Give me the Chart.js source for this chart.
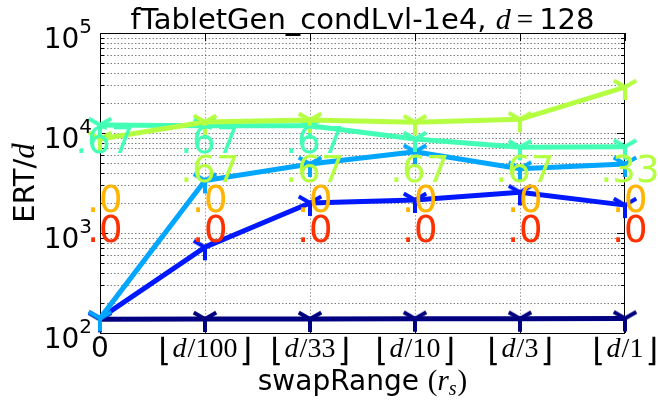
<!DOCTYPE html>
<html><head><meta charset="utf-8">
<script src="https://cdn.jsdelivr.net/npm/chart.js@4/dist/chart.umd.min.js"></script>
<style>html,body{margin:0;padding:0;background:#fff;overflow:hidden}canvas{display:block}</style>
</head><body>
<canvas id="c" width="658" height="402"></canvas>
<script>
// ---- data ----
const categories = ["0", "d/100", "d/33", "d/10", "d/3", "d/1"];
const xTickDivisors = [null, "100", "33", "10", "3", "1"];
const yTickExponents = [2, 3, 4, 5];
const seriesNavy = [137, 138, 138, 139, 139, 140];
const seriesBlue = [140, 720, 2000, 2140, 2550, 1900];
const seriesLightBlue = [140, 3350, 4900, 6500, 4400, 4900];
const seriesAqua = [12000, 11800, 11800, 8700, 7200, 7300];
const seriesYellowGreen = [8700, 12900, 13500, 12800, 13700, 28800];
const labelsAqua = [".67", ".67", ".67", null, null, null];
const labelsYellowGreen = [null, ".67", ".67", ".67", ".67", ".33"];
const labelsOrange = [".0", ".0", ".0", ".0", ".0", ".0"];
const labelsRed = [".0", ".0", ".0", ".0", ".0", ".0"];

const COL = {navy:"#000080", blue:"#0018ff", lblue:"#00a6ff", aqua:"#42ffb5", yg:"#b5ff42", orange:"#ffb400", red:"#ff3000"};

function triDown(color){
  const c = document.createElement('canvas'); c.width = c.height = 34;
  const g = c.getContext('2d'); g.strokeStyle = color; g.lineWidth = 4;
  const cx = 17, cy = 17, r = 13;
  g.beginPath();
  g.moveTo(cx, cy); g.lineTo(cx, cy + r);
  g.moveTo(cx, cy); g.lineTo(cx - r*0.866, cy - r*0.5);
  g.moveTo(cx, cy); g.lineTo(cx + r*0.866, cy - r*0.5);
  g.stroke();
  return c;
}
function ds(data, color, ord){
  return {data, borderColor:color, backgroundColor:color, borderWidth:5, pointStyle:triDown(color),
    pointRadius:10, pointHoverRadius:10, tension:0, clip:false, order:ord};
}

function drawRich(ctx, parts, x, y, align){
  let total = 0;
  parts.forEach(p => { ctx.font = p.f; p.w = ctx.measureText(p.t).width + (p.sp || 0); total += p.w; });
  let cx = align === 'center' ? x - total/2 : (align === 'right' ? x - total : x);
  ctx.textAlign = 'left';
  parts.forEach(p => { ctx.font = p.f; ctx.fillText(p.t, cx + (p.pre || 0), y + (p.dy || 0)); cx += p.w; });
}

const SANS = '"DejaVu Sans"';
const BRK = '32px "Liberation Serif", "DejaVu Sans"';
const decor = {
  id: 'decor',
  beforeDatasetsDraw(chart){
    const {ctx, chartArea:a, scales:{x, y}} = chart;
    ctx.save();
    ctx.lineWidth = 1;
    ctx.setLineDash([1.5, 2]);
    ctx.strokeStyle = 'rgba(0,0,0,0.5)';
    for (let k = 2; k <= 4; k++) for (let m = 1; m <= 9; m++) {
      const py = Math.round(y.getPixelForValue(m * Math.pow(10, k))) + 0.5;
      if (py <= a.top + 1 || py >= a.bottom - 1) continue;
      ctx.beginPath(); ctx.moveTo(a.left, py); ctx.lineTo(a.right, py); ctx.stroke();
    }
    ctx.strokeStyle = 'rgba(0,0,0,0.38)';
    categories.forEach((c, i) => {
      const px = Math.round(x.getPixelForValue(i)) + 0.5;
      if (px <= a.left + 1 || px >= a.right - 1) return;
      ctx.beginPath(); ctx.moveTo(px, a.top); ctx.lineTo(px, a.bottom); ctx.stroke();
    });
    ctx.setLineDash([]);
    ctx.strokeStyle = '#000';
    for (let k = 2; k <= 5; k++) for (let m = 1; m <= 9; m++) {
      const v = m * Math.pow(10, k); if (v > 1e5) break;
      const py = Math.round(y.getPixelForValue(v)) + 0.5;
      const L = m === 1 ? 8 : 4;
      ctx.beginPath();
      ctx.moveTo(a.left, py); ctx.lineTo(a.left + L, py);
      ctx.moveTo(a.right, py); ctx.lineTo(a.right - L, py);
      ctx.stroke();
    }
    categories.forEach((c, i) => {
      const px = Math.round(x.getPixelForValue(i)) + 0.5;
      ctx.beginPath();
      ctx.moveTo(px, a.bottom); ctx.lineTo(px, a.bottom - 8);
      ctx.moveTo(px, a.top); ctx.lineTo(px, a.top + 8);
      ctx.stroke();
    });
    ctx.strokeRect(a.left + 0.5, a.top + 0.5, a.right - a.left - 1, a.bottom - a.top);
    ctx.restore();
  },
  afterDatasetsDraw(chart){
    const {ctx, chartArea:a, scales:{x}} = chart;
    ctx.save();
    ctx.font = '37px ' + SANS; ctx.textAlign = 'center'; ctx.textBaseline = 'alphabetic';
    const rows = [[labelsAqua, COL.aqua, 120], [labelsYellowGreen, COL.yg, 149], [labelsOrange, COL.orange, 179], [labelsRed, COL.red, 209]];
    rows.forEach(([labs, col, off]) => {
      ctx.fillStyle = col;
      labs.forEach((t, i) => { if (t) ctx.fillText(t, x.getPixelForValue(i) + 5, a.top + off); });
    });
    ctx.restore();
  },
  afterDraw(chart){
    const {ctx, chartArea:a, scales:{x, y}} = chart;
    ctx.save();
    ctx.fillStyle = '#000'; ctx.textBaseline = 'alphabetic';
    yTickExponents.forEach(e => {
      const py = y.getPixelForValue(Math.pow(10, e));
      ctx.font = '20px ' + SANS; ctx.textAlign = 'right';
      const ew = ctx.measureText(String(e)).width;
      ctx.fillText(String(e), a.left - 8, py);
      ctx.font = '28px ' + SANS;
      ctx.fillText('10', a.left - 8 - ew, py + 15);
    });
    categories.forEach((c, i) => {
      const px = x.getPixelForValue(i);
      const by = a.bottom + 24;
      if (xTickDivisors[i] === null) {
        ctx.font = '28px ' + SANS; ctx.textAlign = 'center'; ctx.fillText(c, px, by);
      } else {
        drawRich(ctx, [
          {t:'\u230A', f:BRK, sp:2, dy:4},
          {t:'d', f:'italic 28px "Liberation Serif"', sp:1},
          {t:'/' + xTickDivisors[i], f:'28px "Liberation Serif"', sp:2},
          {t:'\u230B', f:BRK, dy:4}
        ], px, by, 'center');
      }
    });
    const cx = (a.left + a.right) / 2;
    drawRich(ctx, [
      {t:'swapRange ', f:'28px ' + SANS},
      {t:'(', f:'29px "Liberation Serif"'},
      {t:'r', f:'italic 29px "Liberation Serif"'},
      {t:'s', f:'italic 20px "Liberation Serif"', dy:5, sp:1},
      {t:')', f:'29px "Liberation Serif"'}
    ], cx, a.bottom + 57, 'center');
    drawRich(ctx, [
      {t:'fTabletGen_condLvl-1e4, ', f:'29px ' + SANS},
      {t:'d', f:'italic 30px "Liberation Serif"', sp:6},
      {t:'=', f:'29px "Liberation Serif"', sp:6},
      {t:'128', f:'29px ' + SANS}
    ], cx, a.top - 4, 'center');
    ctx.translate(34, (a.top + a.bottom) / 2);
    ctx.rotate(-Math.PI / 2);
    drawRich(ctx, [
      {t:'ERT/', f:'29px ' + SANS},
      {t:'d', f:'italic 31px "Liberation Serif"'}
    ], 0, 0, 'center');
    ctx.restore();
  }
};

new Chart(document.getElementById('c'), {
  type: 'line',
  data: {
    labels: categories,
    datasets: [
      ds(seriesNavy, COL.navy, 10),
      ds(seriesBlue, COL.blue, 9),
      ds(seriesLightBlue, COL.lblue, 8),
      ds(seriesAqua, COL.aqua, 7),
      ds(seriesYellowGreen, COL.yg, 6)
    ]
  },
  options: {
    responsive: false, devicePixelRatio: 1, animation: false,
    layout: {padding: {top: 33, right: 33, left: 0, bottom: 0}},
    plugins: {legend: {display: false}, tooltip: {enabled: false}, title: {display: false}},
    scales: {
      x: {type: 'category', offset: false, ticks: {display: false}, grid: {display: false}, border: {display: false},
          afterFit(s){ s.height = 69; }},
      y: {type: 'logarithmic', min: 100, max: 100000, ticks: {display: false}, grid: {display: false}, border: {display: false},
          afterFit(s){ s.width = 100; }}
    }
  },
  plugins: [decor]
});
</script>
</body></html>
